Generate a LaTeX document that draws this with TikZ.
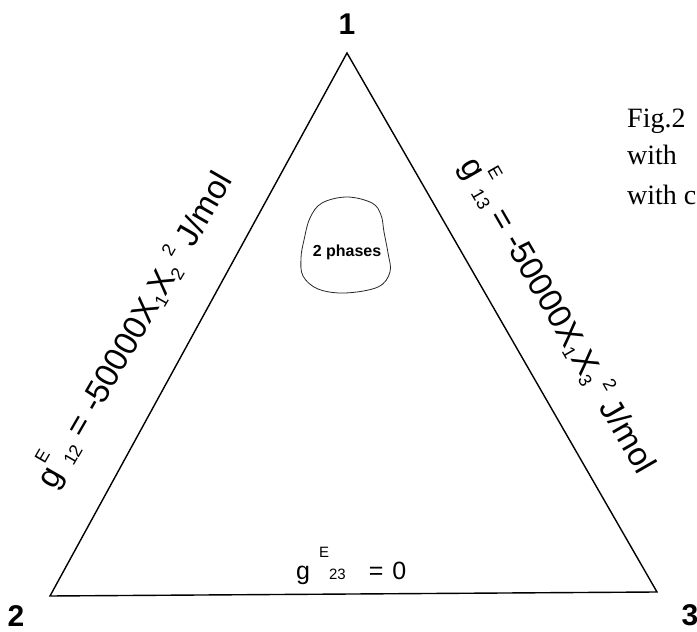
\documentclass[tikz,border=0pt]{standalone}
\usepackage{fontspec}
\setmainfont{Liberation Sans}
\newfontfamily\figserif{Liberation Serif}
\newcommand\shift[2]{\raisebox{#1}{\fontsize{18}{18}\selectfont #2}}
\newcommand\bshift[2]{\raisebox{#1}{\fontsize{15}{15}\selectfont #2}}
\tikzset{
  tri/.style={line width=1.4pt, line join=miter},
  vnum/.style={font=\fontsize{30}{30}\selectfont\bfseries, inner sep=0pt},
  sidelbl/.style={font=\fontsize{33}{33}\selectfont, inner sep=0pt, anchor=base west},
  botlbl/.style={font=\fontsize{25}{25}\selectfont, inner sep=0pt, anchor=base west},
  figtxt/.style={font=\figserif\fontsize{28}{28}\selectfont, inner sep=0pt, anchor=base west},
  blob/.style={line width=0.8pt, draw=black!85}
}
\begin{document}
\begin{tikzpicture}[x=1pt,y=1pt]
\useasboundingbox (0,0) rectangle (697,632);
% vertices
\coordinate (A) at (347,579);
\coordinate (B) at (50,36);
\coordinate (C) at (657,40);
\draw[tri] (A) -- (B) -- (C) -- cycle;
% vertex numbers
\node[vnum] (n1) at (347,608) {1};
\node[vnum] (n2) at (16,16) {2};
\node[vnum] (n3) at (690,17) {3};
% side labels
\node[sidelbl, rotate=60] (l12) at (54,141)
  {g\shift{0.65em}{E}\shift{-0.14em}{12} = -50000X\shift{-0.14em}{1}X\shift{-0.14em}{2}\,\shift{0.45em}{2} J/mol};
\node[sidelbl, rotate=-60] (l13) at (459,467)
  {g\shift{0.65em}{E}\shift{-0.14em}{13} = -50000X\shift{-0.14em}{1}X\shift{-0.14em}{3}\,\shift{0.45em}{2} J/mol};
\node[botlbl] (l23) at (296,52)
  {g\hspace{9pt}\bshift{0.88em}{E}\bshift{0em}{23}\hspace{23pt}=\hspace{9pt}0};
% two-phase region
\draw[blob] plot[smooth cycle, tension=0.6] coordinates
  {(347,435) (372,429) (381,417) (384,400) (388,379) (390,360) (378,345) (345,339) (318,343) (303,356) (301,374) (304,392) (310,414) (322,429)};
\node[font=\fontsize{16}{16}\selectfont\bfseries, inner sep=0pt] (ph) at (347,380) {2 phases};
% figure caption fragment
\node[figtxt] (f1) at (627,504) {Fig.2};
\node[figtxt] (f2) at (627,467) {with};
\node[figtxt] (f3) at (627,427) {with c};
\end{tikzpicture}
\end{document}
